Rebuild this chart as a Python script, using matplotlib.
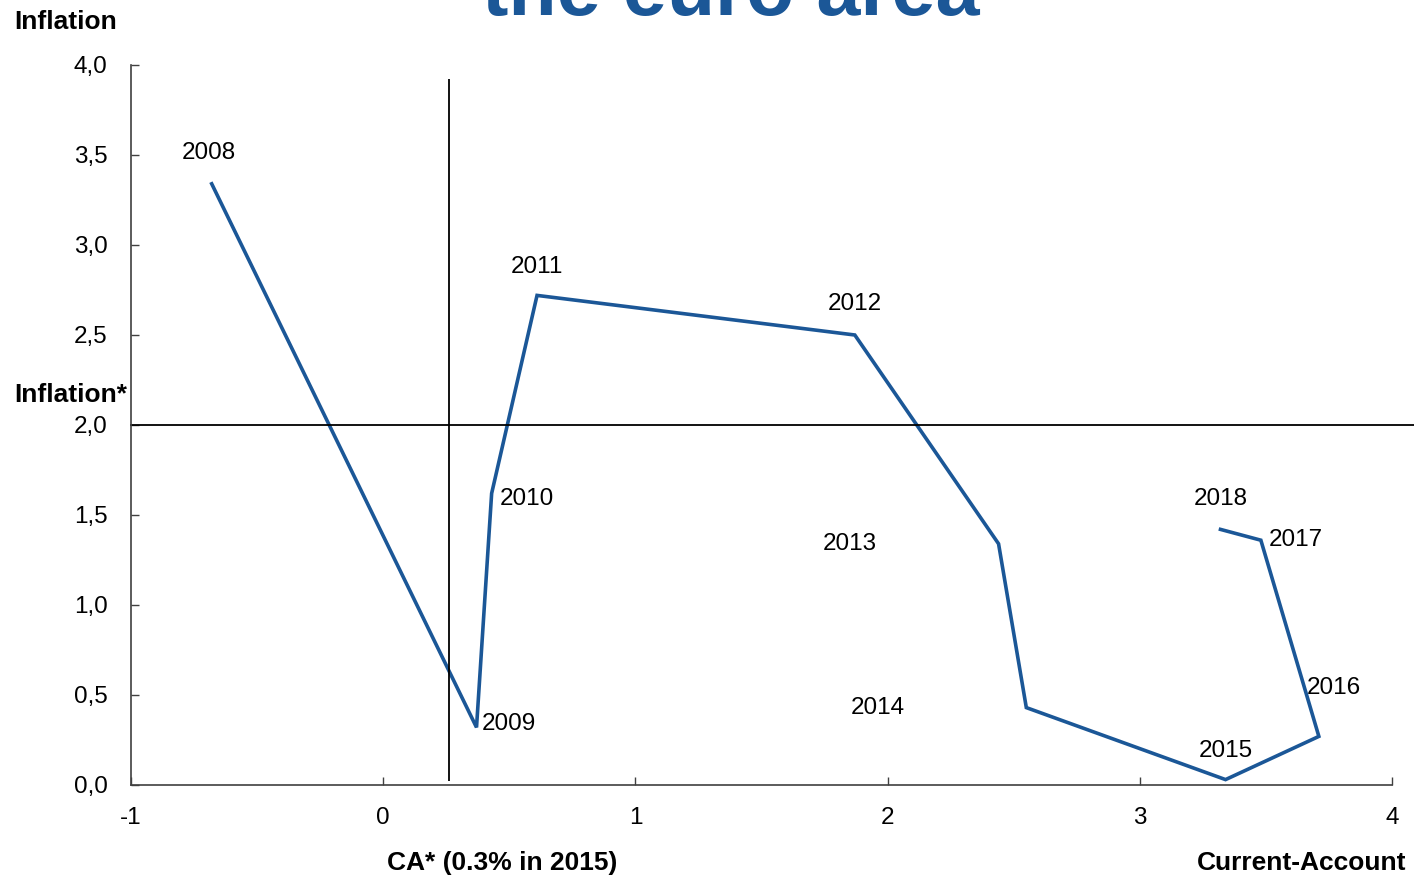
import numpy as np
import matplotlib.pyplot as plt
from matplotlib.ticker import FixedLocator

plt.rcParams['font.family'] = ['Liberation Sans', 'DejaVu Sans']

# current account (x) vs inflation (y), euro area
years = ['2008', '2009', '2010', '2011', '2012', '2013', '2014', '2015', '2016', '2017', '2018']
ca = [-0.68, 0.37, 0.43, 0.61, 1.87, 2.44, 2.55, 3.34, 3.71, 3.48, 3.32]
infl = [3.34, 0.32, 1.62, 2.72, 2.50, 1.34, 0.43, 0.03, 0.27, 1.36, 1.42]

# where the year labels sit (data coords)
lab_x = [-0.69, 0.50, 0.57, 0.61, 1.87, 1.85, 1.96, 3.34, 3.77, 3.62, 3.32]
lab_y = [3.51, 0.34, 1.59, 2.88, 2.67, 1.34, 0.43, 0.19, 0.54, 1.36, 1.59]

ca_star = 0.26
infl_star = 2.0

xticks = [-1, 0, 1, 2, 3, 4]
yticks = [0.0, 0.5, 1.0, 1.5, 2.0, 2.5, 3.0, 3.5, 4.0]
ytick_labels = ['0,0', '0,5', '1,0', '1,5', '2,0', '2,5', '3,0', '3,5', '4,0']

blue = '#1b5797'

fig = plt.figure(figsize=(14.14, 8.76), dpi=100)
ax = fig.add_axes([131/1414, 1 - 785/876, (1392-131)/1414, (785-65)/876])

ax.plot(ca, infl, color=blue, lw=2.6, solid_joinstyle='miter')
for yr, lx, ly in zip(years, lab_x, lab_y):
    ax.text(lx, ly, yr, ha='center', va='center', fontsize=17.5)

ax.axhline(infl_star, xmin=0, xmax=(1414-131)/(1392-131), color='black', lw=1.3, clip_on=False)
ax.vlines(ca_star, 0.02, 3.92, color='black', lw=1.3)

ax.set_xlim(-1, 4)
ax.set_ylim(0, 4)
ax.xaxis.set_major_locator(FixedLocator(xticks))
ax.set_xticklabels([str(t) for t in xticks])
ax.yaxis.set_major_locator(FixedLocator(yticks))
ax.set_yticklabels(ytick_labels)
ax.tick_params(axis='both', direction='in', length=6, width=1, colors='#404040',
               labelcolor='black', labelsize=17.5)
ax.tick_params(axis='x', pad=16)
ax.tick_params(axis='y', pad=17)
for s in ['top', 'right']:
    ax.spines[s].set_visible(False)
for s in ['left', 'bottom']:
    ax.spines[s].set_color('#404040')
    ax.spines[s].set_linewidth(1.2)

fig.text(14/1414, 1 - 22/876, 'Inflation', fontsize=19, fontweight='bold', ha='left', va='center')
fig.text(14/1414, 1 - 395/876, 'Inflation*', fontsize=19, fontweight='bold', ha='left', va='center')
fig.text(502/1414, 1 - 863/876, 'CA* (0.3% in 2015)', fontsize=19, fontweight='bold', ha='center', va='center')
fig.text(1406/1414, 1 - 863/876, 'Current-Account', fontsize=19, fontweight='bold', ha='right', va='center')
fig.text(731/1414, 1 - 15/876, 'the euro area', fontsize=57, fontweight='bold', color=blue,
         ha='center', va='baseline')

fig.savefig('out.png', dpi=100)
